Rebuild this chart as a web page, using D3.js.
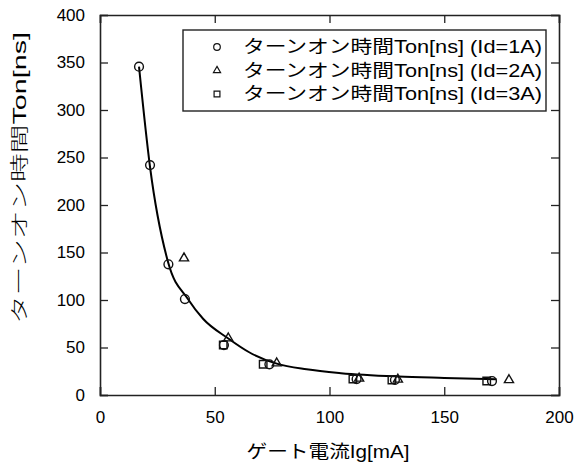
<!DOCTYPE html>
<html>
<head>
<meta charset="utf-8">
<script src="https://cdn.jsdelivr.net/npm/d3@7"></script>
<style>
  html, body { margin: 0; padding: 0; background: #fff; }
  svg text { font-family: "Liberation Sans", "Noto Sans CJK JP", sans-serif; fill: #000; }
</style>
</head>
<body>
<svg id="chart" width="577" height="465"></svg>
<script>
// Gate current Ig [mA] vs turn-on time Ton [ns] for three drain currents
const id1X = [17.0, 21.8, 29.8, 37.0, 54.0, 73.8, 111.8, 128.5, 170.8];
const id1Y = [345.6, 242, 137.6, 101, 52.6, 32.3, 16.8, 15.8, 14.7];
const id2X = [36.6, 55.9, 77.0, 112.9, 129.8, 178.2];
const id2Y = [144, 59.7, 33.4, 17.4, 16.3, 15.8];
const id3X = [53.7, 71.1, 110.2, 127.2, 168.5];
const id3Y = [52.6, 32.3, 16.8, 15.8, 14.7];

// trend curve traced through the measurements
const fitX = [17.0, 21.8, 29.8, 38.3, 45, 55.9, 65, 77, 90, 105, 130, 150, 172.8];
const fitY = [345.6, 240, 138.6, 101, 80, 59.5, 45, 33, 27, 23, 19.5, 18, 16.5];

const xTicks = [0, 50, 100, 150, 200];
const yTicks = [0, 50, 100, 150, 200, 250, 300, 350, 400];

const legendLabels = [
  "ターンオン時間Ton[ns]  (Id=1A)",
  "ターンオン時間Ton[ns]  (Id=2A)",
  "ターンオン時間Ton[ns]  (Id=3A)"
];
const xTitle = "ゲート電流Ig[mA]";
const yTitle = "ターンオン時間Ton[ns]";

const svg = d3.select("#chart");
const L = 100, R = 559, T = 15, B = 395;
const x = d3.scaleLinear().domain([0, 200]).range([L, R]);
const y = d3.scaleLinear().domain([0, 400]).range([B, T]);

const tickLen = 8;
const axisColor = "#222";

// axes: ticks pointing inward on all four sides
const gB = svg.append("g").attr("transform", `translate(0,${B})`)
  .call(d3.axisBottom(x).tickValues(xTicks).tickSize(-tickLen).tickPadding(tickLen + 8).tickFormat(d3.format("d")));
const gT = svg.append("g").attr("transform", `translate(0,${T})`)
  .call(d3.axisTop(x).tickValues(xTicks).tickSize(-tickLen).tickFormat(""));
const gL = svg.append("g").attr("transform", `translate(${L},0)`)
  .call(d3.axisLeft(y).tickValues(yTicks).tickSize(-tickLen).tickPadding(tickLen + 7).tickFormat(d3.format("d")));
const gR = svg.append("g").attr("transform", `translate(${R},0)`)
  .call(d3.axisRight(y).tickValues(yTicks).tickSize(-tickLen).tickFormat(""));

[gB, gT, gL, gR].forEach(g => {
  g.select(".domain").attr("stroke", axisColor).attr("stroke-width", 1.6);
  g.selectAll(".tick line").attr("stroke", axisColor).attr("stroke-width", 1.3);
  g.selectAll(".tick text").attr("font-size", 17).attr("font-family", "Liberation Sans, Arial, sans-serif");
});
gB.selectAll(".tick text").attr("dy", "0.71em");

// trend curve
const line = d3.line().x(d => x(d[0])).y(d => y(d[1])).curve(d3.curveMonotoneX);
svg.append("path")
  .datum(fitX.map((v, i) => [v, fitY[i]]))
  .attr("d", line)
  .attr("fill", "none")
  .attr("stroke", "#000")
  .attr("stroke-width", 2);

// markers
const mk = { fill: "none", stroke: "#111", sw: 1.4 };
function drawSeries(xs, ys, type) {
  const pts = xs.map((v, i) => [v, ys[i]]);
  const g = svg.append("g");
  if (type === "circle") {
    g.selectAll("circle").data(pts).join("circle")
      .attr("cx", d => x(d[0])).attr("cy", d => y(d[1])).attr("r", 4.4);
  } else {
    const sym = type === "triangle" ? d3.symbolTriangle : d3.symbolSquare;
    const size = type === "triangle" ? 36 : 56;
    g.selectAll("path").data(pts).join("path")
      .attr("transform", d => `translate(${x(d[0])},${y(d[1])})`)
      .attr("d", d3.symbol().type(sym).size(size));
  }
  g.selectAll("*").attr("fill", mk.fill).attr("stroke", mk.stroke).attr("stroke-width", mk.sw);
}
drawSeries(id1X, id1Y, "circle");
drawSeries(id2X, id2Y, "triangle");
drawSeries(id3X, id3Y, "square");

// legend
const lg = svg.append("g");
lg.append("rect").attr("x", 183).attr("y", 30).attr("width", 363).attr("height", 81)
  .attr("fill", "#fff").attr("stroke", "#222").attr("stroke-width", 1.4);
const rowY = [47, 70.5, 94];
const types = ["circle", "triangle", "square"];
legendLabels.forEach((t, i) => {
  const cy = rowY[i];
  if (types[i] === "circle") {
    lg.append("circle").attr("cx", 217).attr("cy", cy).attr("r", 3.3)
      .attr("fill", "none").attr("stroke", "#111").attr("stroke-width", 1.2);
  } else {
    const sym = types[i] === "triangle" ? d3.symbolTriangle : d3.symbolSquare;
    lg.append("path").attr("transform", `translate(217,${cy})`)
      .attr("d", d3.symbol().type(sym).size(types[i] === "triangle" ? 22 : 34))
      .attr("fill", "none").attr("stroke", "#111").attr("stroke-width", 1.2);
  }
  lg.append("text").attr("x", 243).attr("y", cy).attr("dy", "0.36em")
    .attr("font-size", 18).attr("textLength", 299).attr("lengthAdjust", "spacingAndGlyphs")
    .text(t);
});

// axis titles
svg.append("text").attr("x", 328).attr("y", 452).attr("dy", "0.36em")
  .attr("text-anchor", "middle").attr("font-size", 18)
  .attr("textLength", 163).attr("lengthAdjust", "spacingAndGlyphs")
  .text(xTitle);
svg.append("text")
  .attr("transform", "translate(20,178) rotate(-90)")
  .attr("dy", "0.36em").attr("text-anchor", "middle").attr("font-size", 18)
  .attr("font-weight", 300)
  .attr("textLength", 292).attr("lengthAdjust", "spacingAndGlyphs")
  .text(yTitle);
</script>
</body>
</html>
